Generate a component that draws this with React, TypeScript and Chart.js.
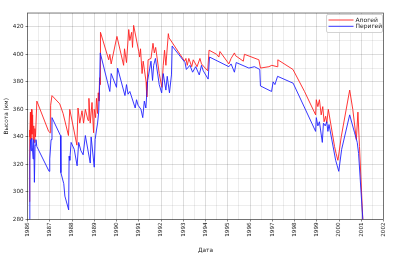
import React, { useEffect, useRef } from 'react';
import { Chart, registerables } from 'chart.js';
Chart.register(...registerables);

const seriesLabels = ['Апогей', 'Перигей'];
const xTitle = 'Дата';
const yTitle = 'Высота (км)';

const apogeeYears = [
  1986.08, 1986.09, 1986.11, 1986.13, 1986.15, 1986.18, 1986.2, 1986.23, 1986.25, 1986.28,
  1986.3, 1986.33, 1986.36, 1986.42, 1986.95, 1987.02, 1987.04, 1987.1, 1987.45, 1987.6,
  1987.84, 1987.9, 1988.22, 1988.27, 1988.35, 1988.45, 1988.52, 1988.6, 1988.72, 1988.76,
  1988.82, 1988.9, 1988.97, 1989.0, 1989.06, 1989.1, 1989.15, 1989.18, 1989.21, 1989.24,
  1989.26, 1989.28, 1989.65, 1989.7, 1989.76, 1990.02, 1990.32, 1990.36, 1990.45, 1990.55,
  1990.6, 1990.68, 1990.72, 1990.77, 1991.0, 1991.04, 1991.08, 1991.15, 1991.2, 1991.33,
  1991.36, 1991.42, 1991.55, 1991.64, 1991.7, 1991.76, 1991.92, 1992.04, 1992.1, 1992.16,
  1992.22, 1992.33, 1992.36, 1993.06, 1993.12, 1993.18, 1993.25, 1993.38, 1993.45, 1993.62,
  1993.75, 1993.82, 1994.1, 1994.16, 1994.5, 1994.6, 1994.65, 1995.05, 1995.15, 1995.3,
  1995.35, 1995.7, 1995.75, 1996.4, 1996.47, 1996.85, 1996.98, 1997.22, 1997.25, 1997.93,
  1998.45, 1998.95, 1998.98, 1999.05, 1999.12, 1999.2, 1999.27, 1999.33, 1999.4, 1999.45,
  1999.52, 1999.8, 1999.87, 1999.95, 1999.98, 2000.1, 2000.48, 2000.62, 2000.78, 2000.85,
  2000.92, 2001.07,
];
const apogeeKm = [
  293, 345, 340, 358, 338, 360, 342, 356, 338, 348,
  336, 346, 340, 366, 344, 343, 363, 370, 364, 357,
  341, 360, 334, 361, 350, 359, 350, 360, 352, 368,
  350, 365, 343, 360, 354, 368, 357, 372, 366, 383,
  378, 416, 396, 400, 393, 413, 392, 404, 394, 418,
  410, 416, 405, 421, 402, 398, 404, 386, 395, 380,
  369, 396, 397, 408, 401, 405, 386, 376, 392, 403,
  392, 415, 412, 395, 397, 392, 397, 391, 396, 391,
  397, 393, 388, 403, 400, 398, 402, 393, 397, 401,
  399, 395, 400, 396, 390, 391, 392, 391, 396, 389,
  373, 356, 367, 362, 367, 356, 362, 351, 355, 350,
  360, 333, 328, 323, 326, 340, 374, 360, 338, 358,
  333, 280,
];

const perigeeYears = [
  1986.09, 1986.1, 1986.11, 1986.13, 1986.16, 1986.19, 1986.22, 1986.25, 1986.28, 1986.31,
  1986.34, 1986.38, 1986.42, 1986.97, 1987.0, 1987.06, 1987.1, 1987.48, 1987.5, 1987.63,
  1987.68, 1987.85, 1987.87, 1987.9, 1987.96, 1988.1, 1988.23, 1988.3, 1988.4, 1988.5,
  1988.6, 1988.82, 1988.86, 1989.0, 1989.04, 1989.1, 1989.15, 1989.2, 1989.24, 1989.27,
  1989.7, 1989.76, 1990.0, 1990.05, 1990.38, 1990.45, 1990.52, 1990.6, 1990.84, 1990.9,
  1990.97, 1991.1, 1991.18, 1991.25, 1991.32, 1991.4, 1991.55, 1991.62, 1991.67, 1991.75,
  1991.92, 1992.03, 1992.1, 1992.22, 1992.28, 1992.38, 1992.47, 1992.5, 1993.08, 1993.14,
  1993.3, 1993.42, 1993.56, 1993.72, 1993.82, 1993.9, 1994.12, 1994.18, 1995.05, 1995.15,
  1995.3, 1995.38, 1995.95, 1996.2, 1996.44, 1996.47, 1996.97, 1997.04, 1997.12, 1997.24,
  1997.94, 1998.95, 1998.98, 1999.05, 1999.12, 1999.25, 1999.3, 1999.38, 1999.45, 1999.5,
  1999.55, 1999.85, 1999.92, 1999.99, 2000.12, 2000.48, 2000.7, 2000.82, 2000.88, 2001.07,
];
const perigeeKm = [
  280, 294, 323, 338, 330, 339, 332, 324, 338, 307,
  334, 338, 333, 315, 324, 338, 354, 341, 314, 306,
  297, 287, 326, 323, 336, 331, 319, 336, 330, 327,
  341, 321, 340, 318, 338, 345, 350, 358, 377, 401,
  373, 386, 376, 390, 370, 378, 371, 373, 361, 367,
  363, 360, 354, 366, 361, 381, 395, 381, 392, 397,
  378, 372, 386, 374, 384, 372, 385, 406, 394, 389,
  392, 387, 391, 385, 392, 388, 382, 398, 391, 393,
  387, 394, 390, 391, 389, 377, 373, 380, 378, 384,
  379, 344, 354, 348, 351, 336, 350, 348, 351, 344,
  349, 323, 319, 315, 331, 356, 343, 336, 328, 280,
];

const xTickYears = [1986, 1987, 1988, 1989, 1990, 1991, 1992, 1993, 1994, 1995, 1996, 1997, 1998, 1999, 2000, 2001, 2002];
const yTickKm = [280, 300, 320, 340, 360, 380, 400, 420];

const FONT = 'DejaVu Sans';

export default function App() {
  const ref = useRef<HTMLCanvasElement>(null);
  useEffect(() => {
    document.body.style.margin = '0';
    const canvas = ref.current!;
    const xMin = xTickYears[0];
    const xMax = xTickYears[xTickYears.length - 1];
    const yMin = yTickKm[0];
    const yMax = 430;
    const xGridVals: number[] = [];
    for (let i = 0; i <= (xMax - xMin) * 2; i++) xGridVals.push(xMin + i / 2);
    const yGridVals: number[] = [];
    for (let v = yMin; v <= yMax; v += 10) yGridVals.push(v);

    const frameLegend = {
      id: 'frameLegend',
      afterDraw(chart: any) {
        const { ctx, chartArea: a } = chart;
        ctx.save();
        ctx.strokeStyle = 'rgba(0,0,0,0.6)';
        ctx.lineWidth = 0.8;
        ctx.strokeRect(a.left, a.top, a.right - a.left, a.bottom - a.top);
        const bx = a.right - 57, by = a.top + 1.5, bw = 56, bh = 18;
        ctx.fillStyle = 'rgba(255,255,255,0.85)';
        ctx.strokeStyle = '#c8c8c8';
        ctx.lineWidth = 0.8;
        ctx.beginPath();
        (ctx as any).roundRect ? ctx.roundRect(bx, by, bw, bh, 1.5) : ctx.rect(bx, by, bw, bh);
        ctx.fill();
        ctx.stroke();
        const colors = ['#ff2020', '#2020ff'];
        ctx.font = `6px "${FONT}"`;
        ctx.textBaseline = 'middle';
        ctx.textAlign = 'left';
        seriesLabels.forEach((lab, i) => {
          const y = by + 5.5 + i * 6.3;
          ctx.strokeStyle = colors[i];
          ctx.lineWidth = 0.9;
          ctx.beginPath();
          ctx.moveTo(bx + 2, y);
          ctx.lineTo(bx + 27, y);
          ctx.stroke();
          ctx.fillStyle = '#222';
          ctx.fillText(lab, bx + 29, y + 0.3);
        });
        ctx.restore();
      },
    };

    const chart = new Chart(canvas, {
      type: 'line',
      data: {
        datasets: [
          {
            label: seriesLabels[0],
            data: apogeeYears.map((x, i) => ({ x, y: apogeeKm[i] })),
            borderColor: '#ff2020',
            borderWidth: 0.9,
            pointRadius: 0,
            tension: 0,
            order: 1,
          },
          {
            label: seriesLabels[1],
            data: perigeeYears.map((x, i) => ({ x, y: perigeeKm[i] })),
            borderColor: '#2020ff',
            borderWidth: 0.9,
            pointRadius: 0,
            tension: 0,
            order: 0,
          },
        ],
      },
      options: {
        animation: false,
        responsive: false,
        devicePixelRatio: 1,
        layout: { padding: { top: 13, right: 16.5, left: 0, bottom: 0 } },
        plugins: { legend: { display: false }, tooltip: { enabled: false } },
        scales: {
          x: {
            type: 'linear',
            min: xMin,
            max: xMax,
            afterBuildTicks: (s: any) => {
              s.ticks = xGridVals.map((v) => ({ value: v }));
            },
            afterFit: (s: any) => {
              s.height = 41.5;
            },
            ticks: {
              autoSkip: false,
              minRotation: 90,
              maxRotation: 90,
              padding: 1,
              color: '#222',
              font: { family: FONT, size: 5.6 },
              callback: (v: any) => (Number.isInteger(v) && xTickYears.includes(v) ? String(v) : ''),
            },
            grid: {
              color: (c: any) => (c.tick && Number.isInteger(c.tick.value) ? 'rgba(0,0,0,0.17)' : 'rgba(0,0,0,0.09)'),
              tickColor: (c: any) => (c.tick && Number.isInteger(c.tick.value) ? 'rgba(0,0,0,0.6)' : 'rgba(0,0,0,0)'),
              lineWidth: 0.8,
              tickLength: 2,
            },
            border: { display: false },
            title: {
              display: true,
              text: xTitle,
              color: '#222',
              font: { family: FONT, size: 5.8 },
              padding: { top: 0, bottom: 7 },
            },
          },
          y: {
            min: yMin,
            max: yMax,
            afterBuildTicks: (s: any) => {
              s.ticks = yGridVals.map((v) => ({ value: v }));
            },
            afterFit: (s: any) => {
              s.width = 27.5;
            },
            ticks: {
              autoSkip: false,
              padding: 2,
              color: '#222',
              font: { family: FONT, size: 5.6 },
              callback: (v: any) => (yTickKm.includes(v) ? String(v) : ''),
            },
            grid: {
              color: (c: any) => (c.tick && c.tick.value % 20 === 0 ? 'rgba(0,0,0,0.17)' : 'rgba(0,0,0,0.09)'),
              tickColor: (c: any) => (c.tick && c.tick.value % 20 === 0 ? 'rgba(0,0,0,0.6)' : 'rgba(0,0,0,0)'),
              lineWidth: 0.8,
              tickLength: 2,
            },
            border: { display: false },
            title: {
              display: true,
              text: yTitle,
              color: '#222',
              font: { family: FONT, size: 5.8 },
              padding: { top: 3, bottom: 0 },
            },
          },
        },
      },
      plugins: [frameLegend],
    });
    return () => chart.destroy();
  }, []);
  return <canvas ref={ref} width={400} height={261} style={{ display: 'block', width: 400, height: 261 }} />;
}
